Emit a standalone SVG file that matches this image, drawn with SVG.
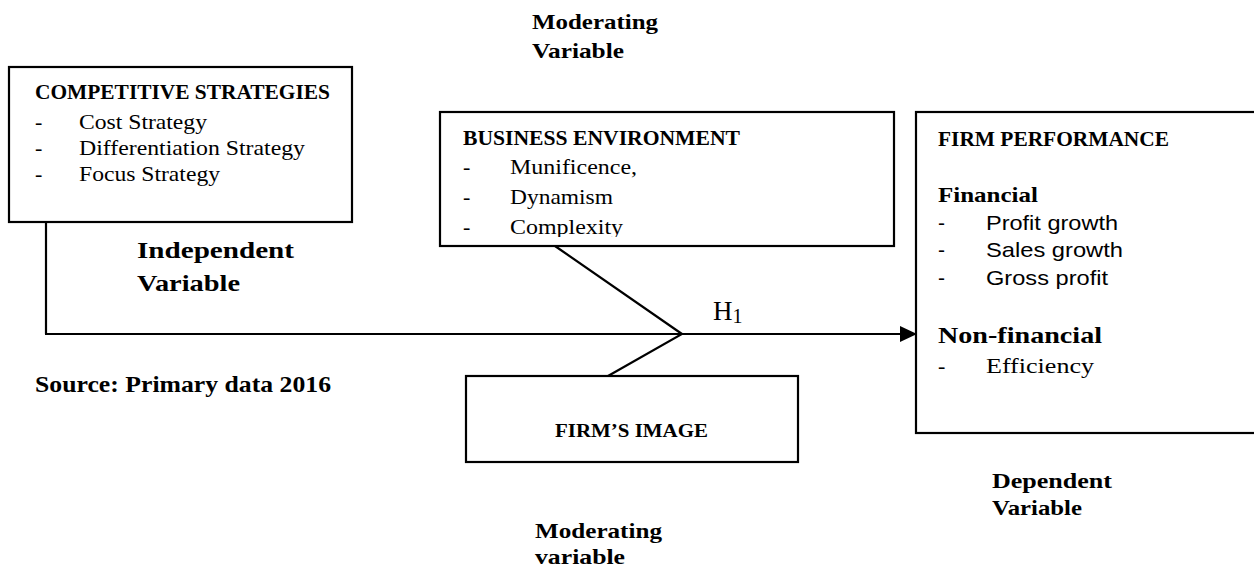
<svg xmlns="http://www.w3.org/2000/svg" width="1254" height="570" viewBox="0 0 1254 570">
<style>
.box{fill:#fff;stroke:#000;stroke-width:2.2}
.ln{fill:none;stroke:#000;stroke-width:2.2}
.b{font-family:"Liberation Serif","DejaVu Serif",serif;font-weight:bold;fill:#000}
.t{font-family:"Liberation Serif","Times New Roman",serif;fill:#000;font-size:22px}
.a{font-family:"Liberation Sans",Arial,sans-serif;fill:#000;font-size:21px}
</style>
<defs>
<marker id="arr" markerWidth="18" markerHeight="16" refX="17" refY="8" orient="auto" markerUnits="userSpaceOnUse">
<path d="M0,0 L17,8 L0,16 Z" fill="#000"/>
</marker>
<clipPath id="clipBE"><rect x="440" y="112" width="460" height="125"/></clipPath>
</defs>
<rect width="1254" height="570" fill="#fff"/>

<g id="connectors">
<polyline class="ln" points="46,222 46,334"/>
<line class="ln" x1="45" y1="334" x2="917" y2="334" marker-end="url(#arr)"/>
<polyline class="ln" points="555,246 682,334 608,376"/>
</g>

<g id="competitive-strategies">
<rect class="box" x="9" y="67" width="343" height="155"/>
<text class="b" x="35" y="99" font-size="22" textLength="295" lengthAdjust="spacingAndGlyphs">COMPETITIVE STRATEGIES</text>
<text class="t" x="35" y="129">-</text>
<text class="t" x="79" y="129" textLength="128" lengthAdjust="spacingAndGlyphs">Cost Strategy</text>
<text class="t" x="35" y="155">-</text>
<text class="t" x="79" y="155" textLength="226" lengthAdjust="spacingAndGlyphs">Differentiation Strategy</text>
<text class="t" x="35" y="181">-</text>
<text class="t" x="79" y="181" textLength="141" lengthAdjust="spacingAndGlyphs">Focus Strategy</text>
</g>

<g id="independent-label">
<text class="b" x="137" y="258" font-size="24" textLength="157" lengthAdjust="spacingAndGlyphs">Independent</text>
<text class="b" x="137" y="291" font-size="24" textLength="103" lengthAdjust="spacingAndGlyphs">Variable</text>
</g>

<g id="source">
<text class="b" x="35" y="392" font-size="24" textLength="296" lengthAdjust="spacingAndGlyphs">Source: Primary data 2016</text>
</g>

<g id="moderating-top">
<text class="b" x="532" y="29" font-size="21" textLength="126" lengthAdjust="spacingAndGlyphs">Moderating</text>
<text class="b" x="532" y="58" font-size="21" textLength="92" lengthAdjust="spacingAndGlyphs">Variable</text>
</g>

<g id="business-environment">
<rect class="box" x="440" y="112" width="454" height="134"/>
<text class="b" x="463" y="145" font-size="21" textLength="277" lengthAdjust="spacingAndGlyphs">BUSINESS ENVIRONMENT</text>
<g clip-path="url(#clipBE)">
<text class="t" x="463" y="174">-</text>
<text class="t" x="510" y="174" textLength="127" lengthAdjust="spacingAndGlyphs">Munificence,</text>
<text class="t" x="463" y="204">-</text>
<text class="t" x="510" y="204" textLength="103" lengthAdjust="spacingAndGlyphs">Dynamism</text>
<text class="t" x="463" y="234">-</text>
<text class="t" x="510" y="234" textLength="113" lengthAdjust="spacingAndGlyphs">Complexity</text>
</g>
</g>

<g id="h1-label">
<text font-family="'Liberation Serif','DejaVu Serif',serif" font-size="27" x="713" y="320">H<tspan font-size="20" dy="3">1</tspan></text>
</g>

<g id="firms-image">
<rect class="box" x="466" y="376" width="332" height="86"/>
<text class="b" x="555" y="437" font-size="19" textLength="153" lengthAdjust="spacingAndGlyphs">FIRM’S IMAGE</text>
</g>

<g id="firm-performance">
<rect class="box" x="916" y="112" width="345" height="321"/>
<text class="b" x="938" y="146" font-size="20" textLength="231" lengthAdjust="spacingAndGlyphs">FIRM PERFORMANCE</text>
<text class="b" x="938" y="202" font-size="21" textLength="100" lengthAdjust="spacingAndGlyphs">Financial</text>
<text class="a" x="938" y="230">-</text>
<text class="a" x="986" y="230" textLength="132" lengthAdjust="spacingAndGlyphs">Profit growth</text>
<text class="a" x="938" y="257">-</text>
<text class="a" x="986" y="257" textLength="137" lengthAdjust="spacingAndGlyphs">Sales growth</text>
<text class="a" x="938" y="285">-</text>
<text class="a" x="986" y="285" textLength="122" lengthAdjust="spacingAndGlyphs">Gross profit</text>
<text class="b" x="938" y="343" font-size="24" textLength="164" lengthAdjust="spacingAndGlyphs">Non-financial</text>
<text class="t" x="938" y="373">-</text>
<text class="t" x="986" y="373" textLength="108" lengthAdjust="spacingAndGlyphs">Efficiency</text>
</g>

<g id="dependent-label">
<text class="b" x="992" y="488" font-size="21" textLength="120" lengthAdjust="spacingAndGlyphs">Dependent</text>
<text class="b" x="992" y="515" font-size="21" textLength="90" lengthAdjust="spacingAndGlyphs">Variable</text>
</g>

<g id="moderating-bottom">
<text class="b" x="535" y="538" font-size="21" textLength="127" lengthAdjust="spacingAndGlyphs">Moderating</text>
<text class="b" x="535" y="564" font-size="21" textLength="90" lengthAdjust="spacingAndGlyphs">variable</text>
</g>
</svg>
